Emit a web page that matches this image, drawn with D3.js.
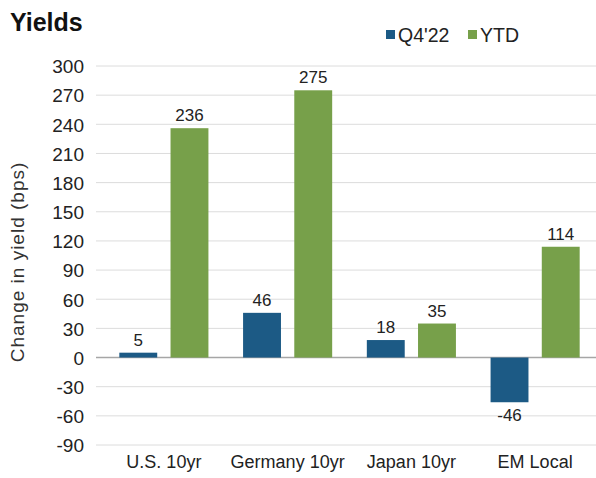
<!DOCTYPE html>
<html>
<head>
<meta charset="utf-8">
<script src="https://cdn.jsdelivr.net/npm/d3@7"></script>
<style>
  body { margin: 0; background: #fff; }
  svg { font-family: "Liberation Sans", Arial, sans-serif; }
</style>
</head>
<body>
<div id="chart"></div>
<script>
// chart data
var categories = ['U.S. 10yr', 'Germany 10yr', 'Japan 10yr', 'EM Local'];
var seriesNames = ["Q4'22", 'YTD'];
var q4Values = [5, 46, 18, -46];
var ytdValues = [236, 275, 35, 114];
var yTicks = [300, 270, 240, 210, 180, 150, 120, 90, 60, 30, 0, -30, -60, -90];

var w = 596,
    h = 478,
    colors = ['#1c5a85', '#77a04a'];

var svg = d3.select('#chart').append('svg')
    .attr('width', w)
    .attr('height', h);

var y = d3.scaleLinear()
    .domain([-90, 300])
    .range([445, 66]);

var x0 = d3.scaleBand()
    .domain(categories)
    .range([102, 597])
    .paddingInner(0.28)
    .paddingOuter(0.14);

var x1 = d3.scaleBand()
    .domain(seriesNames)
    .range([0, x0.bandwidth()])
    .paddingInner(0.26);

// gridlines
svg.append('g').selectAll('line')
    .data(yTicks)
  .enter().append('line')
    .attr('x1', 96)
    .attr('x2', w)
    .attr('y1', function(d) { return y(d); })
    .attr('y2', function(d) { return y(d); })
    .style('stroke', function(d) { return d == 0 ? '#a6a6a6' : '#dcdcdc'; })
    .style('stroke-width', function(d) { return d == 0 ? 1.5 : 1; });

// y axis labels (plain hyphen for negatives, like the source)
var yAxis = d3.axisLeft(y).tickValues(yTicks).tickSize(0).tickPadding(0)
    .tickFormat(function(d) { return String(d); });
var yg = svg.append('g')
    .attr('transform', 'translate(84,0)')
    .call(yAxis);
yg.select('.domain').remove();
yg.selectAll('text')
    .attr('dy', '0.36em')
    .style('font-size', '19px')
    .style('fill', '#222');

// x axis labels
var xAxis = d3.axisBottom(x0).tickSize(0).tickPadding(0);
var xg = svg.append('g')
    .attr('transform', 'translate(0,455)')
    .call(xAxis);
xg.select('.domain').remove();
xg.selectAll('text')
    .style('font-size', '18px')
    .style('fill', '#222');

// bars
var rows = categories.map(function(c, i) {
  return {cat: c, vals: [
    {name: seriesNames[0], value: q4Values[i]},
    {name: seriesNames[1], value: ytdValues[i]}
  ]};
});

var group = svg.append('g').selectAll('g.group')
    .data(rows)
  .enter().append('g')
    .attr('class', 'group')
    .attr('transform', function(d) { return 'translate(' + x0(d.cat) + ',0)'; });

group.selectAll('rect')
    .data(function(d) { return d.vals; })
  .enter().append('rect')
    .attr('x', function(d) { return x1(d.name); })
    .attr('width', x1.bandwidth())
    .attr('y', function(d) { return y(Math.max(0, d.value)); })
    .attr('height', function(d) { return Math.abs(y(d.value) - y(0)); })
    .style('fill', function(d, i) { return colors[i]; });

group.selectAll('text.val')
    .data(function(d) { return d.vals; })
  .enter().append('text')
    .attr('class', 'val')
    .attr('x', function(d) { return x1(d.name) + x1.bandwidth() / 2; })
    .attr('y', function(d) {
      return d.value < 0 ? y(d.value) + 19 : y(d.value) - 7;
    })
    .attr('text-anchor', 'middle')
    .style('font-size', '17px')
    .style('fill', '#222')
    .text(function(d) { return d.value; });

// y axis title
svg.append('text')
    .attr('transform', 'translate(24,262) rotate(-90)')
    .attr('text-anchor', 'middle')
    .style('font-size', '19px')
    .style('letter-spacing', '1px')
    .style('fill', '#333')
    .text('Change in yield (bps)');

// title
svg.append('text')
    .attr('x', 10)
    .attr('y', 31)
    .style('font-size', '25px')
    .style('font-weight', 'bold')
    .style('fill', '#111')
    .text('Yields');

// legend
var legendX = [386, 468];
var legend = svg.append('g').selectAll('g.legend')
    .data(seriesNames)
  .enter().append('g')
    .attr('class', 'legend')
    .attr('transform', function(d, i) { return 'translate(' + legendX[i] + ',0)'; });

legend.append('rect')
    .attr('x', 0)
    .attr('y', 30)
    .attr('width', 9)
    .attr('height', 9)
    .style('fill', function(d, i) { return colors[i]; });

legend.append('text')
    .attr('x', 12)
    .attr('y', 42)
    .style('font-size', '19.5px')
    .style('fill', '#222')
    .text(function(d) { return d; });
</script>
</body>
</html>
